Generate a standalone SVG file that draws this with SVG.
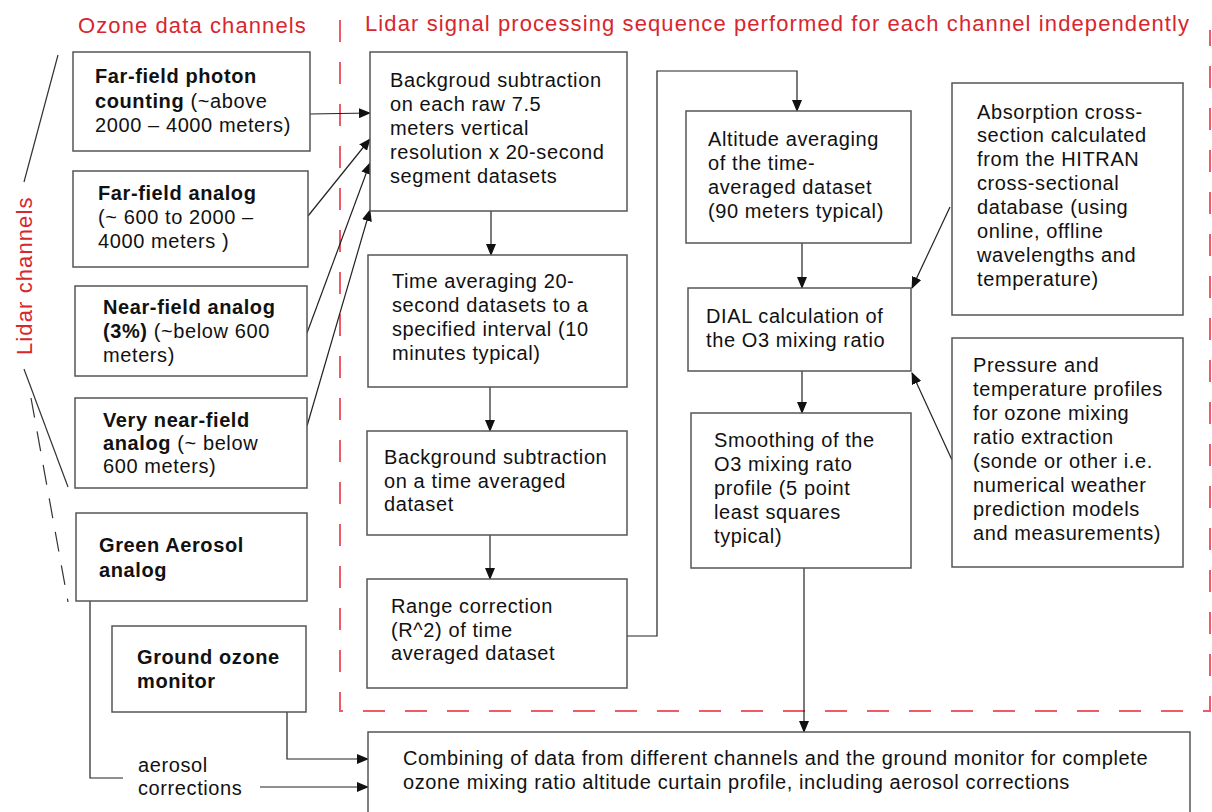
<svg xmlns="http://www.w3.org/2000/svg" width="1212" height="812" viewBox="0 0 1212 812">
  <style>
    text { font-family: "Liberation Sans", Arial, sans-serif; font-size: 20px; letter-spacing: 0.6px; fill: #111; }
    .b { font-weight: bold; }
    .title { font-size: 22px; letter-spacing: 1.1px; fill: #d8262f; }
    .box { fill: #fff; stroke: #555; stroke-width: 1.5; }
    .wire { fill: none; stroke: #222; stroke-width: 1.2; }
    .zone { fill: none; stroke: #ee5a66; stroke-width: 2; stroke-dasharray: 22 20; }
    .brace { fill: none; stroke: #333; stroke-width: 1.2; }
  </style>
  <defs>
    <marker id="arrow" markerUnits="userSpaceOnUse" markerWidth="12" markerHeight="10" refX="11" refY="5" orient="auto">
      <path d="M0,0 L12,5 L0,10 Z" fill="#111"/>
    </marker>
  </defs>
  <rect width="1212" height="812" fill="#fff"/>

  <!-- headings -->
  <text class="title" x="78" y="33">Ozone data channels</text>
  <text class="title" x="365" y="31">Lidar signal processing sequence performed for each channel independently</text>
  <text class="title" transform="translate(32,355) rotate(-90)">Lidar channels</text>

  <!-- processing zone outline -->
  <path class="zone" d="M340,20 V711 H1210 V30"/>

  <!-- side bracket for lidar channels -->
  <g id="bracket">
    <line class="brace" x1="58" y1="55" x2="24" y2="182"/>
    <line class="brace" x1="24" y1="369" x2="68" y2="487"/>
    <line class="brace" x1="31" y1="398" x2="68" y2="602" stroke-dasharray="20 14"/>
  </g>

  <!-- connectors -->
  <g id="connectors">
    <line class="wire" x1="310" y1="114" x2="370" y2="113" marker-end="url(#arrow)"/>
    <line class="wire" x1="308" y1="216" x2="370" y2="139" marker-end="url(#arrow)"/>
    <line class="wire" x1="307" y1="333" x2="370" y2="163" marker-end="url(#arrow)"/>
    <line class="wire" x1="307" y1="426" x2="370" y2="210" marker-end="url(#arrow)"/>
    <line class="wire" x1="491" y1="211" x2="491" y2="255" marker-end="url(#arrow)"/>
    <line class="wire" x1="490" y1="387" x2="490" y2="431" marker-end="url(#arrow)"/>
    <line class="wire" x1="490" y1="535" x2="490" y2="579" marker-end="url(#arrow)"/>
    <path class="wire" d="M627,636 H657 V71 H797 V111" marker-end="url(#arrow)"/>
    <line class="wire" x1="802" y1="243" x2="802" y2="288" marker-end="url(#arrow)"/>
    <line class="wire" x1="802" y1="371" x2="802" y2="413" marker-end="url(#arrow)"/>
    <line class="wire" x1="950" y1="207" x2="912" y2="288" marker-end="url(#arrow)"/>
    <line class="wire" x1="952" y1="460" x2="912" y2="373" marker-end="url(#arrow)"/>
    <line class="wire" x1="804" y1="568" x2="804" y2="732" marker-end="url(#arrow)"/>
    <path class="wire" d="M287,712 V759 H368" marker-end="url(#arrow)"/>
    <path class="wire" d="M90,601 V778 H123"/>
    <line class="wire" x1="260" y1="787" x2="368" y2="787" marker-end="url(#arrow)"/>
  </g>

  <!-- ozone data channels -->
  <g id="far-photon">
    <rect class="box" x="73" y="52" width="237" height="99"/>
    <text x="95" y="83" class="b">Far-field photon</text>
    <text x="95" y="108"><tspan class="b">counting</tspan> (~above</text>
    <text x="95" y="132">2000 – 4000 meters)</text>
  </g>
  <g id="far-analog">
    <rect class="box" x="73" y="171" width="235" height="96"/>
    <text x="98" y="200" class="b">Far-field analog</text>
    <text x="98" y="224">(~ 600 to 2000 –</text>
    <text x="98" y="248">4000 meters )</text>
  </g>
  <g id="near-analog">
    <rect class="box" x="75" y="286" width="232" height="90"/>
    <text x="103" y="314" class="b">Near-field analog</text>
    <text x="103" y="338"><tspan class="b">(3%)</tspan> (~below 600</text>
    <text x="103" y="362">meters)</text>
  </g>
  <g id="very-near-analog">
    <rect class="box" x="75" y="398" width="232" height="90"/>
    <text x="103" y="427" class="b">Very near-field</text>
    <text x="103" y="450"><tspan class="b">analog</tspan> (~ below</text>
    <text x="103" y="473">600 meters)</text>
  </g>
  <g id="green-aerosol">
    <rect class="box" x="76" y="513" width="231" height="88"/>
    <text x="99" y="552" class="b">Green Aerosol</text>
    <text x="99" y="577" class="b">analog</text>
  </g>
  <g id="ground-monitor">
    <rect class="box" x="112" y="626" width="194" height="86"/>
    <text x="137" y="664" class="b">Ground ozone</text>
    <text x="137" y="688" class="b">monitor</text>
  </g>
  <g id="aerosol-label">
    <text x="138" y="772">aerosol</text>
    <text x="138" y="795">corrections</text>
  </g>

  <!-- processing steps -->
  <g id="bg-raw">
    <rect class="box" x="370" y="52" width="257" height="159"/>
    <text x="390" y="87">Backgroud subtraction</text>
    <text x="390" y="111">on each raw 7.5</text>
    <text x="390" y="135">meters vertical</text>
    <text x="390" y="159">resolution x 20-second</text>
    <text x="390" y="183">segment datasets</text>
  </g>
  <g id="time-avg">
    <rect class="box" x="368" y="255" width="259" height="132"/>
    <text x="392" y="288">Time averaging 20-</text>
    <text x="392" y="312">second datasets to a</text>
    <text x="392" y="336">specified interval (10</text>
    <text x="392" y="360">minutes typical)</text>
  </g>
  <g id="bg-avg">
    <rect class="box" x="367" y="431" width="260" height="104"/>
    <text x="384" y="464">Background subtraction</text>
    <text x="384" y="488">on a time averaged</text>
    <text x="384" y="511">dataset</text>
  </g>
  <g id="range-corr">
    <rect class="box" x="367" y="579" width="260" height="109"/>
    <text x="391" y="613">Range correction</text>
    <text x="391" y="637">(R^2) of time</text>
    <text x="391" y="660">averaged dataset</text>
  </g>
  <g id="alt-avg">
    <rect class="box" x="686" y="111" width="225" height="132"/>
    <text x="708" y="146">Altitude averaging</text>
    <text x="708" y="170">of the time-</text>
    <text x="708" y="194">averaged dataset</text>
    <text x="708" y="218">(90 meters typical)</text>
  </g>
  <g id="dial">
    <rect class="box" x="688" y="288" width="223" height="83"/>
    <text x="706" y="323">DIAL calculation of</text>
    <text x="706" y="347">the O3 mixing ratio</text>
  </g>
  <g id="smoothing">
    <rect class="box" x="691" y="413" width="220" height="155"/>
    <text x="714" y="447">Smoothing of the</text>
    <text x="714" y="471">O3 mixing rato</text>
    <text x="714" y="495">profile (5 point</text>
    <text x="714" y="519">least squares</text>
    <text x="714" y="543">typical)</text>
  </g>
  <g id="cross-section">
    <rect class="box" x="952" y="83" width="231" height="232"/>
    <text x="977" y="119">Absorption cross-</text>
    <text x="977" y="142">section calculated</text>
    <text x="977" y="166">from the HITRAN</text>
    <text x="977" y="190">cross-sectional</text>
    <text x="977" y="214">database (using</text>
    <text x="977" y="238">online, offline</text>
    <text x="977" y="262">wavelengths and</text>
    <text x="977" y="286">temperature)</text>
  </g>
  <g id="pt-profiles">
    <rect class="box" x="952" y="338" width="231" height="229"/>
    <text x="973" y="372">Pressure and</text>
    <text x="973" y="396">temperature profiles</text>
    <text x="973" y="420">for ozone mixing</text>
    <text x="973" y="444">ratio extraction</text>
    <text x="973" y="468">(sonde or other i.e.</text>
    <text x="973" y="492">numerical weather</text>
    <text x="973" y="516">prediction models</text>
    <text x="973" y="540">and measurements)</text>
  </g>
  <g id="combine">
    <rect class="box" x="368" y="732" width="822" height="90"/>
    <text x="403" y="765">Combining of data from different channels and the ground monitor for complete</text>
    <text x="403" y="789">ozone mixing ratio altitude curtain profile, including aerosol corrections</text>
  </g>
</svg>
